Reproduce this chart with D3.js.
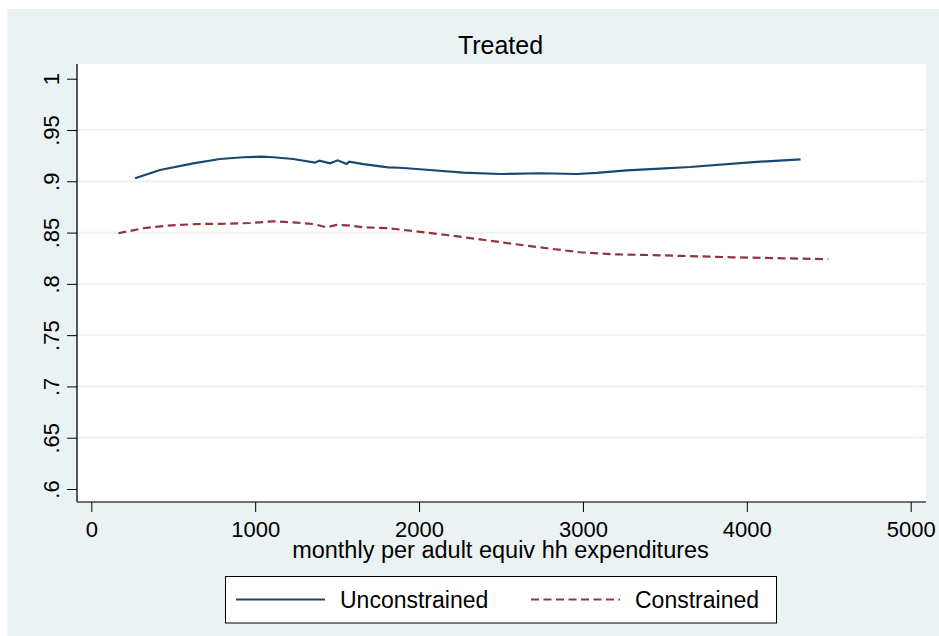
<!DOCTYPE html>
<html>
<head>
<meta charset="utf-8">
<script src="https://cdn.jsdelivr.net/npm/d3@7"></script>
<style>
  body { margin: 0; background: #fff; }
  svg { display: block; font-family: "Liberation Sans", Arial, sans-serif; }
</style>
</head>
<body>
<svg></svg>
<script>
// values
let unconstrainedX = [267, 419, 622, 785, 927, 1040, 1110, 1232, 1365, 1391, 1457, 1503, 1558, 1574, 1660, 1812, 1883, 2066, 2270, 2494, 2738, 2962, 3084, 3267, 3470, 3653, 4019, 4328]
let unconstrainedY = [.9029, .9110, .9175, .9217, .9234, .9240, .9234, .9217, .9181, .9201, .9175, .9204, .9168, .9191, .9168, .9136, .9132, .9110, .9084, .9071, .9078, .9071, .9081, .9107, .9123, .9139, .9185, .9214]

let constrainedX = [165, 317, 460, 643, 826, 968, 1110, 1253, 1355, 1436, 1497, 1558, 1660, 1812, 1965, 2168, 2372, 2575, 2779, 2982, 3185, 3409, 3612, 3917, 4222, 4497]
let constrainedY = [.8493, .8542, .8567, .8583, .8586, .8593, .8610, .8596, .8583, .8551, .8574, .8571, .8551, .8542, .8515, .8476, .8434, .8389, .8347, .8308, .8288, .8281, .8272, .8259, .8249, .8240]

let xTicks = [0, 1000, 2000, 3000, 4000, 5000]
let yTicks = [.6, .65, .7, .75, .8, .85, .9, .95, 1]
let yTickLabels = ['.6', '.65', '.7', '.75', '.8', '.85', '.9', '.95', '1']

let seriesNames = ['Unconstrained', 'Constrained']

let width = 939
let height = 636

let blue = '#1a476f'
let red = '#90353b'
let bg = '#eaf2f3'

let svg = d3.select('svg')
    .attr('width', width)
    .attr('height', height)

// outer graph region
svg.append('rect')
    .attr('x', 7).attr('y', 9)
    .attr('width', width - 7).attr('height', height - 9)
    .attr('fill', bg)

let plotLeft = 77, plotRight = 926, plotTop = 64, plotBottom = 502

svg.append('rect')
    .attr('x', plotLeft).attr('y', plotTop)
    .attr('width', plotRight - plotLeft).attr('height', plotBottom - plotTop)
    .attr('fill', '#fff')

let xScale = d3.scaleLinear().domain([0, 5000]).range([91.3, 910.7])
let yScale = d3.scaleLinear().domain([.6, 1]).range([489, 78.7])

// grid lines (not at the extremes)
svg.append('g')
    .selectAll('line')
    .data(yTicks.slice(1, -1))
    .enter()
    .append('line')
    .attr('x1', plotLeft).attr('x2', plotRight)
    .attr('y1', d => yScale(d)).attr('y2', d => yScale(d))
    .attr('stroke', bg)
    .attr('stroke-width', 1.8)

// axes
let yAxis = d3.axisLeft(yScale)
    .tickValues(yTicks)
    .tickFormat((d, i) => yTickLabels[i])
    .tickSize(10)
    .tickSizeOuter(0)

let yg = svg.append('g')
    .attr('transform', 'translate(' + plotLeft + ',0)')
    .call(yAxis)
yg.select('.domain').attr('d', 'M0,' + plotTop + 'V' + plotBottom).attr('stroke', '#000').attr('stroke-width', 1.3)
yg.selectAll('.tick line').attr('stroke', '#000').attr('stroke-width', 1)
yg.selectAll('.tick text')
    .attr('x', 0).attr('y', 0).attr('dy', 0)
    .attr('text-anchor', 'middle')
    .attr('transform', 'translate(-18,0) rotate(-90)')
    .attr('font-size', 22)
    .attr('font-family', '"Liberation Sans", Arial, sans-serif')
    .attr('fill', '#000')

let xAxis = d3.axisBottom(xScale)
    .tickValues(xTicks)
    .tickFormat(d3.format('d'))
    .tickSize(10)
    .tickSizeOuter(0)

let xg = svg.append('g')
    .attr('transform', 'translate(0,' + plotBottom + ')')
    .call(xAxis)
xg.select('.domain').attr('d', 'M' + plotLeft + ',0H' + plotRight).attr('stroke', '#444').attr('stroke-width', 1.3)
xg.selectAll('.tick line').attr('stroke', '#000').attr('stroke-width', 1)
xg.selectAll('.tick text')
    .attr('y', 35).attr('dy', 0)
    .attr('font-size', 22)
    .attr('font-family', '"Liberation Sans", Arial, sans-serif')
    .attr('fill', '#000')

// lines
let line = d3.line()
    .x(d => xScale(d[0]))
    .y(d => yScale(d[1]))

let unconstrained = unconstrainedX.map((x, i) => [x, unconstrainedY[i]])
let constrained = constrainedX.map((x, i) => [x, constrainedY[i]])

svg.append('path')
    .datum(unconstrained)
    .attr('d', line)
    .attr('fill', 'none')
    .attr('stroke', blue)
    .attr('stroke-width', 2.2)

svg.append('path')
    .datum(constrained)
    .attr('d', line)
    .attr('fill', 'none')
    .attr('stroke', red)
    .attr('stroke-width', 2.2)
    .attr('stroke-dasharray', '8,4.5')

// titles
svg.append('text')
    .attr('x', 500.5).attr('y', 54)
    .attr('text-anchor', 'middle')
    .attr('font-size', 25)
    .text('Treated')

svg.append('text')
    .attr('x', 500.5).attr('y', 558)
    .attr('text-anchor', 'middle')
    .attr('font-size', 23.5)
    .text('monthly per adult equiv hh expenditures')

// legend
let legend = svg.append('g')
legend.append('rect')
    .attr('x', 225.5).attr('y', 576.5)
    .attr('width', 551).attr('height', 46.5)
    .attr('fill', '#fff')
    .attr('stroke', '#000')
    .attr('stroke-width', 1)

let legendItems = [
    { name: seriesNames[0], color: blue, dash: null, x1: 236, x2: 325, tx: 340 },
    { name: seriesNames[1], color: red, dash: '8,4.5', x1: 531, x2: 620, tx: 635 }
]
legendItems.forEach(item => {
    legend.append('line')
        .attr('x1', item.x1).attr('x2', item.x2)
        .attr('y1', 599.5).attr('y2', 599.5)
        .attr('stroke', item.color)
        .attr('stroke-width', 2.2)
        .attr('stroke-dasharray', item.dash)
    legend.append('text')
        .attr('x', item.tx).attr('y', 607.5)
        .attr('font-size', 23)
        .text(item.name)
})
</script>
</body>
</html>
